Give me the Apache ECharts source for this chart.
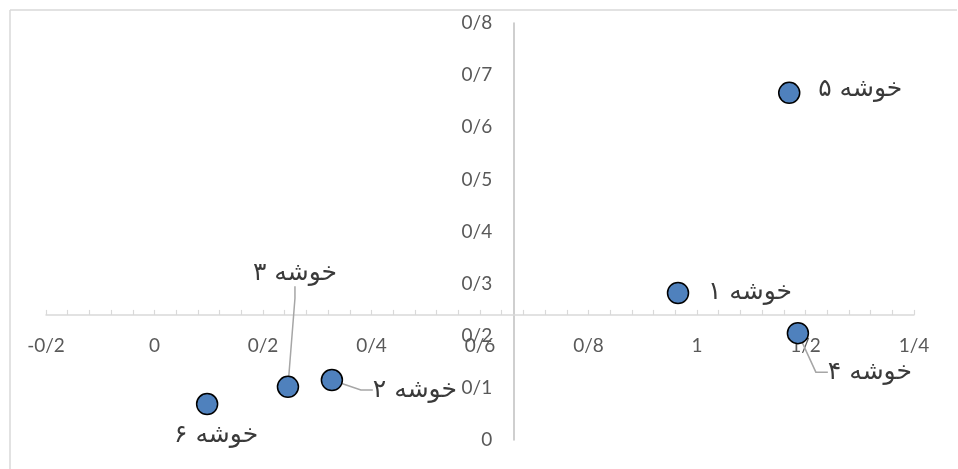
<!DOCTYPE html>
<html>
<head>
<meta charset="utf-8">
<script src="https://cdn.jsdelivr.net/npm/echarts@6/dist/echarts.min.js"></script>
<style>
  html, body { margin: 0; padding: 0; background: #fff; }
  #chart { width: 958px; height: 469px; }
</style>
</head>
<body>
<div id="chart"></div>
<script>
// cluster names and coordinates
const names = ['خوشه ۱', 'خوشه ۲', 'خوشه ۳', 'خوشه ۴', 'خوشه ۵', 'خوشه ۶'];
const xs = [0.965, 0.327, 0.246, 1.186, 1.170, 0.097];
const ys = [0.282, 0.115, 0.102, 0.205, 0.666, 0.069];

// where the axes cross each other
const crossX = 0.663;
const crossY = 0.240;

// label placement (pixel offset of label centre from the marker), and which get a leader line
const labelOffsets = [[72, -1], [83, 10], [7, -113], [72, 39], [71, -3], [9, 31]];
const showLeader = [false, true, true, true, false, false];

const fmt = v => String(Math.round(v * 10) / 10).replace('.', '/');

const chart = echarts.init(document.getElementById('chart'));

const grid = { left: 46, right: 44, top: 23, bottom: 29 };
const plotW = 958 - grid.left - grid.right;
const plotH = 469 - grid.top - grid.bottom;
// axis offsets so lines sit at crossing values
const xAxisOffset = -((crossY - 0) / 0.8) * plotH;
const yAxisOffset = -((crossX + 0.2) / 1.6) * plotW;

chart.setOption({
  animation: false,
  backgroundColor: '#fff',
  grid: grid,
  graphic: [
    { type: 'line', shape: { x1: 10, y1: 10, x2: 10, y2: 469 }, style: { stroke: '#d9d9d9', lineWidth: 1.5 } },
    { type: 'line', shape: { x1: 10, y1: 10, x2: 957, y2: 10 }, style: { stroke: '#d9d9d9', lineWidth: 1.5 } }
  ],
  xAxis: {
    type: 'value',
    min: -0.2,
    max: 1.4,
    interval: 0.2,
    offset: xAxisOffset,
    axisLine: { show: true, onZero: false, lineStyle: { color: '#d9d9d9', width: 1.5 } },
    axisTick: { show: true, inside: true, length: 5, lineStyle: { color: '#d9d9d9', width: 1.2 } },
    minorTick: { show: true, splitNumber: 5, length: 5, lineStyle: { color: '#d9d9d9', width: 1.2 } },
    splitLine: { show: false },
    axisLabel: {
      margin: 21,
      color: '#595959',
      fontFamily: 'Lato',
      fontSize: 19,
      formatter: fmt
    }
  },
  yAxis: {
    type: 'value',
    min: 0,
    max: 0.8,
    interval: 0.1,
    offset: yAxisOffset,
    axisLine: { show: true, onZero: false, lineStyle: { color: '#bfbfbf', width: 1.5 } },
    axisTick: { show: false },
    splitLine: { show: false },
    axisLabel: {
      margin: 22,
      color: '#595959',
      fontFamily: 'Lato',
      fontSize: 19,
      formatter: fmt
    }
  },
  series: [{
    type: 'scatter',
    symbol: 'circle',
    symbolSize: 21,
    itemStyle: { color: '#4f81bd', borderColor: '#000', borderWidth: 1.5, opacity: 1 },
    data: names.map((n, i) => ({
      name: n,
      value: [xs[i], ys[i]],
      labelLine: { show: showLeader[i] }
    })),
    label: {
      show: true,
      formatter: '{b}',
      position: 'inside',
      color: '#3a3a3a',
      fontFamily: 'DejaVu Sans',
      fontSize: 25
    },
    labelLine: {
      show: true,
      length2: 12,
      lineStyle: { color: '#a6a6a6', width: 1.5 }
    },
    labelLayout: function (params) {
      const o = labelOffsets[params.dataIndex];
      const r = params.rect;
      return {
        x: r.x + r.width / 2 + o[0],
        y: r.y + r.height / 2 + o[1],
        align: 'center',
        verticalAlign: 'middle'
      };
    }
  }]
});
</script>
</body>
</html>
